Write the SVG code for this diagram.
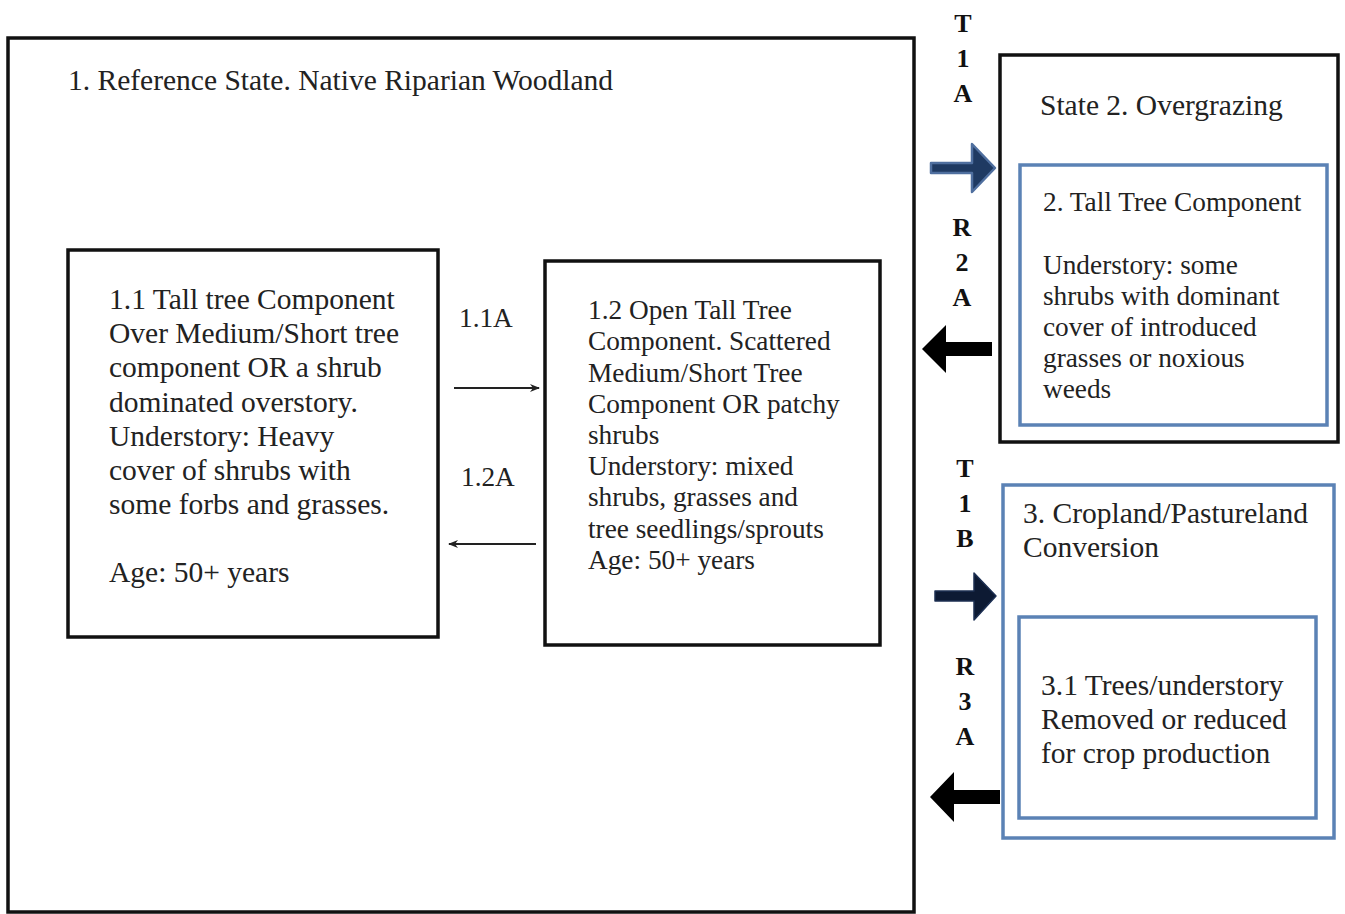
<svg xmlns="http://www.w3.org/2000/svg" width="1345" height="914" viewBox="0 0 1345 914">
<style>
.t{font-family:"Liberation Serif","Times New Roman",serif;fill:#222;}
.f26{font-size:29.5px;}
.f24{font-size:27.3px;}
.lbl{font-family:"Liberation Serif","Times New Roman",serif;font-size:26px;font-weight:bold;fill:#111;text-anchor:middle;}
.blk{fill:#fff;stroke:#111;stroke-width:3.5;}
.blu{fill:#fff;stroke:#5b82b5;stroke-width:3.5;}
.thin{stroke:#222;stroke-width:2;fill:none;}
</style>
<defs>
<marker id="ah" viewBox="0 0 10 10" refX="9" refY="5" markerWidth="10" markerHeight="10" markerUnits="userSpaceOnUse" orient="auto-start-reverse">
<path d="M0,1 L10,5 L0,9 L3,5 Z" fill="#222"/>
</marker>
</defs>
<rect width="1345" height="914" fill="#fff"/>
<g id="state1">
<rect class="blk" x="8" y="38" width="906" height="874"/>
<text class="t f26" x="68" y="90">1. Reference State. Native Riparian Woodland</text>
</g>
<g id="node-1-1">
<rect class="blk" x="68" y="250" width="370" height="387"/>
<text class="t f26">
<tspan x="109" y="309">1.1 Tall tree Component</tspan>
<tspan x="109" y="343">Over Medium/Short tree</tspan>
<tspan x="109" y="377">component OR a shrub</tspan>
<tspan x="109" y="412">dominated overstory.</tspan>
<tspan x="109" y="446">Understory: Heavy</tspan>
<tspan x="109" y="480">cover of shrubs with</tspan>
<tspan x="109" y="514">some forbs and grasses.</tspan>
<tspan x="109" y="582">Age: 50+ years</tspan>
</text>
</g>
<g id="node-1-2">
<rect class="blk" x="545" y="261" width="335" height="384"/>
<text class="t f24">
<tspan x="588" y="319">1.2 Open Tall Tree</tspan>
<tspan x="588" y="350">Component. Scattered</tspan>
<tspan x="588" y="382">Medium/Short Tree</tspan>
<tspan x="588" y="413">Component OR patchy</tspan>
<tspan x="588" y="444">shrubs</tspan>
<tspan x="588" y="475">Understory: mixed</tspan>
<tspan x="588" y="506">shrubs, grasses and</tspan>
<tspan x="588" y="538">tree seedlings/sprouts</tspan>
<tspan x="588" y="569">Age: 50+ years</tspan>
</text>
</g>
<g id="state2">
<rect class="blk" x="1000" y="55" width="338" height="387"/>
<text class="t f26" x="1040" y="115">State 2. Overgrazing</text>
</g>
<g id="node-2">
<rect class="blu" x="1020" y="165" width="307" height="260"/>
<text class="t f24">
<tspan x="1043" y="211">2. Tall Tree Component</tspan>
<tspan x="1043" y="274">Understory: some</tspan>
<tspan x="1043" y="305">shrubs with dominant</tspan>
<tspan x="1043" y="336">cover of introduced</tspan>
<tspan x="1043" y="367">grasses or noxious</tspan>
<tspan x="1043" y="398">weeds</tspan>
</text>
</g>
<g id="state3">
<rect class="blu" x="1003" y="485" width="331" height="353"/>
<text class="t f26">
<tspan x="1023" y="523">3. Cropland/Pastureland</tspan>
<tspan x="1023" y="557">Conversion</tspan>
</text>
</g>
<g id="node-3-1">
<rect class="blu" x="1019" y="617" width="297" height="201"/>
<text class="t f26">
<tspan x="1041" y="695">3.1 Trees/understory</tspan>
<tspan x="1041" y="729">Removed or reduced</tspan>
<tspan x="1041" y="763">for crop production</tspan>
</text>
</g>
<g id="connectors">
<line class="thin" x1="454" y1="388" x2="539" y2="388" marker-end="url(#ah)"/>
<line class="thin" x1="536" y1="544" x2="449" y2="544" marker-end="url(#ah)"/>
<text class="t f24" x="459" y="327">1.1A</text>
<text class="t f24" x="461" y="486">1.2A</text>
<path d="M931,163 L972,163 L972,144 L995,168 L972,192 L972,173 L931,173 Z" fill="#1f3a62" stroke="#4f6f9f" stroke-width="2.5" stroke-linejoin="round"/>
<path d="M992,342 L946,342 L946,325 L922,349 L946,373 L946,356 L992,356 Z" fill="#000"/>
<path d="M935,591 L974,591 L974,573 L996,596 L974,620 L974,601 L935,601 Z" fill="#0d1a33" stroke="#1c2f52" stroke-width="1.5" stroke-linejoin="round"/>
<path d="M1000,790 L954,790 L954,772 L930,797 L954,822 L954,804 L1000,804 Z" fill="#000"/>
<text class="lbl"><tspan x="963" y="32">T</tspan><tspan x="963" y="67">1</tspan><tspan x="963" y="102">A</tspan></text>
<text class="lbl"><tspan x="962" y="236">R</tspan><tspan x="962" y="271">2</tspan><tspan x="962" y="306">A</tspan></text>
<text class="lbl"><tspan x="965" y="477">T</tspan><tspan x="965" y="512">1</tspan><tspan x="965" y="547">B</tspan></text>
<text class="lbl"><tspan x="965" y="675">R</tspan><tspan x="965" y="710">3</tspan><tspan x="965" y="745">A</tspan></text>
</g>
</svg>
